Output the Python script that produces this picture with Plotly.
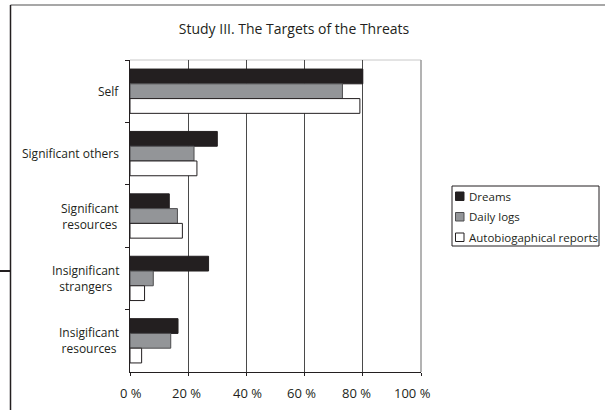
import plotly.graph_objects as go

# Threat targets and the share of threats aimed at each, per data source
categories = ["Self", "Significant others", "Significant resources",
              "Insignificant strangers", "Insigificant resources"]
category_labels = ["Self", "Significant others", "Significant<br>resources",
                   "Insignificant<br>strangers", "Insigificant<br>resources"]
dreams = [80, 30, 13.5, 27, 16.5]
daily_logs = [73, 22, 16.3, 8, 14]
autobiographical = [79, 23, 18, 5, 4]
series_names = ["Dreams", "Daily logs", "Autobiogaphical reports"]
x_ticks = [0, 20, 40, 60, 80, 100]
x_tick_text = ["0 %", "20 %", "40 %", "60 %", "80 %", "100 %"]

FONT = "Open Sans"
INK = "#231f20"

W, H = 605, 410
L, R, T, B = 130, 184, 60, 38
PW, PH = W - L - R, H - T - B

# small horizontal nudges of the percent labels relative to their ticks (px)
label_nudge = [1, -2, 1, -3, -6, -9]


def px_x(px):
    return (px - L) / PW


def px_y(py):
    return 1 - (py - T) / PH


fills = [INK, "#939598", "#ffffff"]
edges = [INK, "#4d4d4f", INK]

fig = go.Figure()
for name, vals, fill, edge in zip(series_names,
                                  [dreams, daily_logs, autobiographical],
                                  fills, edges):
    fig.add_trace(go.Bar(
        y=categories, x=vals, name=name, orientation="h",
        marker=dict(color=fill, line=dict(color=edge, width=1)),
        showlegend=False,
    ))

# Category labels, centred line by line to the left of the axis
for cat, lab in zip(categories, category_labels):
    fig.add_annotation(
        x=px_x(121), xref="paper", y=cat, yref="y", text=lab,
        showarrow=False, xanchor="right", yanchor="middle", align="center",
        font=dict(family=FONT, size=12, color=INK),
    )

# Percent labels under the x axis
for v, txt, dx in zip(x_ticks, x_tick_text, label_nudge):
    fig.add_annotation(
        x=v, xref="x", y=px_y(392.5), yref="paper", text=txt,
        showarrow=False, xanchor="center", yanchor="middle", xshift=dx,
        font=dict(family=FONT, size=13, color=INK),
    )

# Outer frame pieces
frame = [
    dict(x0=px_x(10.5), x1=px_x(606), y0=px_y(5), y1=px_y(5), color="#8a8a8a", w=1.5),
    dict(x0=px_x(10.5), x1=px_x(10.5), y0=px_y(5), y1=px_y(412), color=INK, w=1.5),
    dict(x0=px_x(-2), x1=px_x(10.5), y0=px_y(271), y1=px_y(271), color=INK, w=2),
]
for f in frame:
    fig.add_shape(type="line", xref="paper", yref="paper",
                  x0=f["x0"], x1=f["x1"], y0=f["y0"], y1=f["y1"],
                  line=dict(color=f["color"], width=f["w"]), layer="above")

# Plot-area border: light top edge and grey right edge
fig.add_shape(type="line", xref="paper", yref="paper", x0=0, x1=1, y0=1, y1=1,
              line=dict(color="#c8c8c8", width=1), layer="below")
fig.add_shape(type="line", xref="paper", yref="paper", x0=1, x1=1, y0=0, y1=1,
              line=dict(color="#9a9a9a", width=1.5), layer="below")

# Legend box with swatches
fig.add_shape(type="rect", xref="paper", yref="paper",
              x0=px_x(452), x1=px_x(599), y0=px_y(246), y1=px_y(186),
              line=dict(color=INK, width=1), fillcolor="white", layer="above")
for i, (name, fill, edge) in enumerate(zip(series_names, fills, edges)):
    cy = 196 + i * 20.5
    fig.add_shape(type="rect", xref="paper", yref="paper",
                  x0=px_x(455.5), x1=px_x(464), y0=px_y(cy + 4.5), y1=px_y(cy - 4),
                  line=dict(color=edge if i else INK, width=1), fillcolor=fill,
                  layer="above")
    fig.add_annotation(x=px_x(466.5), xref="paper", y=px_y(cy), yref="paper",
                       text=name, showarrow=False, xanchor="left",
                       yanchor="middle", font=dict(family=FONT, size=11.5, color=INK))

fig.update_layout(
    width=W, height=H,
    margin=dict(l=L, r=R, t=T, b=B, autoexpand=False),
    paper_bgcolor="white", plot_bgcolor="white",
    barmode="group", bargap=0.29, bargroupgap=0,
    font=dict(family=FONT, size=12, color=INK),
    title=dict(text="Study III. The Targets of the Threats",
               x=px_x(294), xref="paper", xanchor="center",
               y=1 - 29 / H, yref="container", yanchor="middle",
               font=dict(family=FONT, size=14, color=INK)),
    showlegend=False,
    xaxis=dict(range=[0, 100], tickvals=x_ticks, showticklabels=False,
               showgrid=True, gridcolor="#4a4a4a", gridwidth=1,
               showline=True, linecolor=INK, linewidth=1,
               ticks="outside", ticklen=3, tickcolor=INK,
               zeroline=False, fixedrange=True),
    yaxis=dict(categoryorder="array", categoryarray=categories,
               autorange="reversed", showticklabels=False,
               showline=True, linecolor=INK, linewidth=1,
               ticks="outside", ticklen=4, tickcolor=INK,
               tickson="boundaries", showgrid=False, zeroline=False,
               fixedrange=True),
)

fig.write_html("out.html")
